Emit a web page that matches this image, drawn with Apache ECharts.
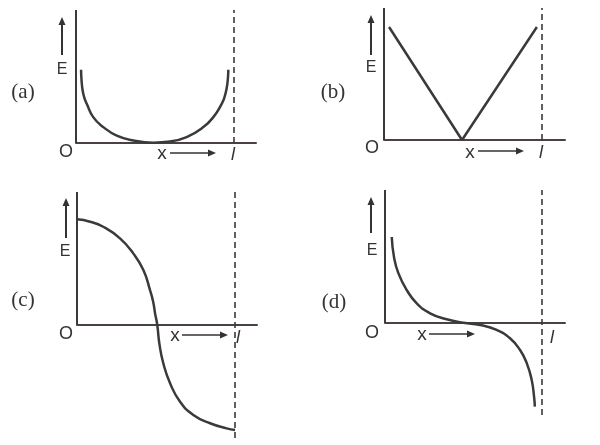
<!DOCTYPE html>
<html><head><meta charset="utf-8">
<script src="https://cdn.jsdelivr.net/npm/echarts@6/dist/echarts.min.js"></script>
<style>html,body{margin:0;padding:0;background:#fff}#c{width:600px;height:445px}</style>
</head><body><div id="c"></div>
<script>
// ---- data (x in units of l, E in arbitrary units) ----
const panelLabels = ['(a)', '(b)', '(c)', '(d)'];
const yName = 'E', originName = 'O', xName = 'x', lName = 'l';
const lPos = 1;

const xA = [0.032, 0.035, 0.042, 0.053, 0.068, 0.109, 0.173, 0.258, 0.363, 0.489, 0.595, 0.70, 0.806, 0.869, 0.922, 0.941, 0.954, 0.961, 0.964];
const yA = [0.99, 0.85, 0.71, 0.61, 0.53, 0.35, 0.215, 0.10, 0.034, 0.005, 0.02, 0.08, 0.215, 0.35, 0.53, 0.63, 0.75, 0.87, 0.99];

const xB = [0.032, 0.494, 0.968];
const yB = [1.0, 0.0, 1.0];

const xC = [0, 0.082, 0.166, 0.272, 0.356, 0.42, 0.462, 0.482, 0.494, 0.508, 0.521, 0.546, 0.589, 0.652, 0.736, 0.842, 0.947, 1.0];
const yC = [0.997, 0.975, 0.927, 0.818, 0.676, 0.519, 0.33, 0.22, 0.11, 0.0, -0.173, -0.361, -0.55, -0.724, -0.849, -0.927, -0.975, -0.99];

const xD = [0.043, 0.057, 0.085, 0.138, 0.202, 0.287, 0.393, 0.499, 0.605, 0.711, 0.796, 0.86, 0.903, 0.934, 0.949, 0.954];
const yD = [1.0, 0.77, 0.58, 0.384, 0.229, 0.113, 0.043, 0.003, -0.023, -0.081, -0.178, -0.314, -0.469, -0.663, -0.857, -0.973];

// ---- layout ----
const ink = '#3a3a3a';
const layout = [
  {left: 76, top: 10, width: 180, height: 133, xMax: 1.139, yMin: 0, yMax: 1.8},
  {left: 384, top: 8, width: 181, height: 132, xMax: 1.146, yMin: 0, yMax: 1.168},
  {left: 77, top: 192, width: 180, height: 246, xMax: 1.139, yMin: -1.066, yMax: 1.255},
  {left: 385, top: 190, width: 180, height: 225, xMax: 1.146, yMin: -1.07, yMax: 1.547}
];
const curves = [[xA, yA, 0.5], [xB, yB, 0], [xC, yC, 0.5], [xD, yD, 0.5]];

// annotation positions (pixels)
const ann = [
  {arrow: [62, 55, 17], E: [62, 70], P: [23, 92], O: [66, 152], X: [162, 154], xa: [170, 216, 153], L: [233, 155]},
  {arrow: [371, 55, 15], E: [371, 68], P: [333, 92], O: [372, 148], X: [470, 153], xa: [478, 524, 151], L: [541, 153]},
  {arrow: [66, 238, 198], E: [65, 252], P: [23, 300], O: [66, 334], X: [175, 336], xa: [182, 228, 335], L: [238, 338]},
  {arrow: [371, 233, 197], E: [372, 251], P: [334, 302], O: [372, 333], X: [422, 335], xa: [429, 475, 334], L: [552, 338]}
];

const grid = [], xAxis = [], yAxis = [], series = [];
layout.forEach((g, i) => {
  grid.push({left: g.left, top: g.top, width: g.width, height: g.height});
  xAxis.push({type: 'value', gridIndex: i, min: 0, max: g.xMax,
    axisLine: {show: true, onZero: true, lineStyle: {color: '#4a4048', width: 2}},
    axisTick: {show: false}, axisLabel: {show: false}, splitLine: {show: false}});
  yAxis.push({type: 'value', gridIndex: i, min: g.yMin, max: g.yMax,
    axisLine: {show: false}, axisTick: {show: false}, axisLabel: {show: false}, splitLine: {show: false}});
  const [xs, ys, sm] = curves[i];
  series.push({
    type: 'line', xAxisIndex: i, yAxisIndex: i, showSymbol: false, symbol: 'none',
    smooth: sm, data: xs.map((x, k) => [x, ys[k]]),
    lineStyle: {color: ink, width: 2.5}, silent: true,
    markLine: {
      silent: true, symbol: 'none', label: {show: false},
      data: [
        [{coord: [0, 0], lineStyle: {type: 'solid', width: 2, color: '#3a3a3a'}}, {coord: [0, g.yMax]}],
        [{coord: [lPos, g.yMin], lineStyle: {type: [6, 4], width: 1.6, color: '#3a3a3a'}}, {coord: [lPos, g.yMax]}]
      ]
    }
  });
});

const graphic = [];
const txt = (x, y, t, size, family, style) => graphic.push({type: 'text', x, y,
  style: {text: t, fill: '#333', font: (style || 'normal') + ' ' + size + 'px ' + family, textAlign: 'center', textVerticalAlign: 'middle'}});
ann.forEach((a, i) => {
  const [ax, yb, yt] = a.arrow;
  graphic.push({type: 'line', shape: {x1: ax, y1: yb, x2: ax, y2: yt + 5}, style: {stroke: '#333', lineWidth: 2}});
  graphic.push({type: 'polygon', shape: {points: [[ax, yt], [ax - 3.5, yt + 8], [ax + 3.5, yt + 8]]}, style: {fill: '#333'}});
  const [x1, x2, y] = a.xa;
  graphic.push({type: 'line', shape: {x1: x1, y1: y, x2: x2 - 5, y2: y}, style: {stroke: '#333', lineWidth: 1.6}});
  graphic.push({type: 'polygon', shape: {points: [[x2, y], [x2 - 8, y - 3.5], [x2 - 8, y + 3.5]]}, style: {fill: '#333'}});
  txt(a.E[0], a.E[1], yName, 16, '"Liberation Sans", Arial, sans-serif');
  txt(a.P[0], a.P[1], panelLabels[i], 21, '"Liberation Serif", "Times New Roman", serif');
  txt(a.O[0], a.O[1], originName, 18, '"Liberation Sans", Arial, sans-serif');
  txt(a.X[0], a.X[1], xName, 19, '"Liberation Sans", Arial, sans-serif');
  txt(a.L[0], a.L[1], lName, 18, '"Liberation Sans", Arial, sans-serif', 'italic');
});

const chart = echarts.init(document.getElementById('c'), null, {renderer: 'canvas'});
chart.setOption({backgroundColor: '#fff', animation: false, grid, xAxis, yAxis, series, graphic});
</script></body></html>
